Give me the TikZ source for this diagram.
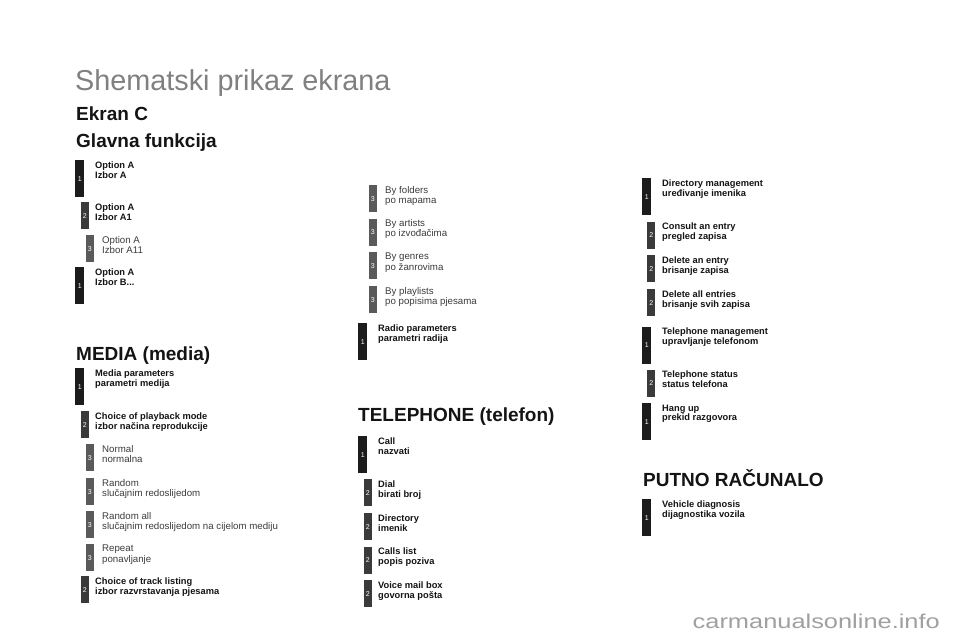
\documentclass[tikz,border=0pt]{standalone}
\usepackage{fontspec}
\setmainfont{Liberation Sans}
\definecolor{cone}{HTML}{1C1C1C}
\definecolor{ctwo}{HTML}{3A3A3A}
\definecolor{cthree}{HTML}{5A5A5A}
\definecolor{ctxt}{HTML}{141414}
\definecolor{ctxtr}{HTML}{3C3C3C}
\definecolor{ctitle}{HTML}{808080}
\definecolor{cwm}{HTML}{A0A0A0}
\begin{document}
\begin{tikzpicture}[x=1pt,y=-1pt,
  barbase/.style={anchor=north west,inner sep=0pt,text=white,font=\fontsize{7}{7}\selectfont},
  barone/.style={barbase,fill=cone,minimum width=9pt,minimum height=37pt},
  bartwo/.style={barbase,fill=ctwo,minimum width=8pt,minimum height=27pt},
  barthree/.style={barbase,fill=cthree,minimum width=8pt,minimum height=27pt},
  lblb/.style={anchor=north west,inner sep=0pt,align=left,text=ctxt,font=\fontsize{9.3}{9.8}\selectfont\bfseries},
  lblr/.style={anchor=north west,inner sep=0pt,align=left,text=ctxtr,font=\fontsize{9.7}{10.2}\selectfont},
  head/.style={anchor=base west,inner sep=0pt,text=ctxt,font=\fontsize{19}{19}\selectfont\bfseries},
]
\useasboundingbox[fill=white] (0,0) rectangle (960,640);

% titles
\node[anchor=base west,inner sep=0pt,text=ctitle,font=\fontsize{28.8}{28.8}\selectfont] (title) at (75,90) {Shematski prikaz ekrana};
\node[head] (ekran) at (76,120) {Ekran C};
\node[head] (glavna) at (76,147) {Glavna funkcija};
\node[head] (media) at (76,360) {MEDIA (media)};
\node[head] (tel) at (358,421) {TELEPHONE (telefon)};
\node[head] (putno) at (643,486) {PUTNO RAČUNALO};

% Glavna funkcija
\node[barone] (ga) at (75,160) {1};
\node[lblb] (gat) at (95,161.5) {Option A\\Izbor A};
\node[bartwo] (gb) at (80.5,202) {2};
\node[lblb] (gbt) at (95,203.5) {Option A\\Izbor A1};
\node[barthree] (gc) at (85.5,235) {3};
\node[lblr] (gct) at (102,236) {Option A\\Izbor A11};
\node[barone] (gd) at (75,267) {1};
\node[lblb] (gdt) at (95,268.5) {Option A\\Izbor B...};

% MEDIA
\node[barone] (ma) at (75,368) {1};
\node[lblb] (mat) at (95,369.5) {Media parameters\\parametri medija};
\node[bartwo] (mb) at (80.5,411) {2};
\node[lblb] (mbt) at (95,412.5) {Choice of playback mode\\izbor načina reprodukcije};
\node[barthree] (mc) at (85.5,444) {3};
\node[lblr] (mct) at (102,445) {Normal\\normalna};
\node[barthree] (md) at (85.5,478) {3};
\node[lblr] (mdt) at (102,479) {Random\\slučajnim redoslijedom};
\node[barthree] (me) at (85.5,511) {3};
\node[lblr] (met) at (102,512) {Random all\\slučajnim redoslijedom na cijelom mediju};
\node[barthree] (mf) at (85.5,544) {3};
\node[lblr] (mft) at (102,545) {Repeat\\ponavljanje};
\node[bartwo] (mg) at (80.5,576) {2};
\node[lblb] (mgt) at (95,577.5) {Choice of track listing\\izbor razvrstavanja pjesama};

% column B
\node[barthree] (ba) at (368.5,185) {3};
\node[lblr] (bat) at (385,186) {By folders\\po mapama};
\node[barthree] (bb) at (368.5,218.5) {3};
\node[lblr] (bbt) at (385,219.5) {By artists\\po izvođačima};
\node[barthree] (bc) at (368.5,252) {3};
\node[lblr] (bct) at (385,253) {By genres\\po žanrovima};
\node[barthree] (bd) at (368.5,286) {3};
\node[lblr] (bdt) at (385,287) {By playlists\\po popisima pjesama};
\node[barone] (be) at (358,323) {1};
\node[lblb] (bet) at (378,324.5) {Radio parameters\\parametri radija};

% TELEPHONE
\node[barone] (ta) at (358,436) {1};
\node[lblb] (tat) at (378,437.5) {Call\\nazvati};
\node[bartwo] (tb) at (363.5,479) {2};
\node[lblb] (tbt) at (378,480.5) {Dial\\birati broj};
\node[bartwo] (tc) at (363.5,513) {2};
\node[lblb] (tct) at (378,514.5) {Directory\\imenik};
\node[bartwo] (td) at (363.5,546.5) {2};
\node[lblb] (tdt) at (378,548) {Calls list\\popis poziva};
\node[bartwo] (te) at (363.5,580) {2};
\node[lblb] (tet) at (378,581.5) {Voice mail box\\govorna pošta};

% column C
\node[barone] (ca) at (642,178) {1};
\node[lblb] (cat) at (662,179.5) {Directory management\\uređivanje imenika};
\node[bartwo] (cb) at (647,221.5) {2};
\node[lblb] (cbt) at (662,223) {Consult an entry\\pregled zapisa};
\node[bartwo] (cc) at (647,255) {2};
\node[lblb] (cct) at (662,256.5) {Delete an entry\\brisanje zapisa};
\node[bartwo] (cd) at (647,289) {2};
\node[lblb] (cdt) at (662,290.5) {Delete all entries\\brisanje svih zapisa};
\node[barone] (ce) at (642,326.5) {1};
\node[lblb] (cet) at (662,328) {Telephone management\\upravljanje telefonom};
\node[bartwo] (cf) at (647,369.5) {2};
\node[lblb] (cft) at (662,371) {Telephone status\\status telefona};
\node[barone] (cg) at (642,403) {1};
\node[lblb] (cgt) at (662,404.5) {Hang up\\prekid razgovora};

% PUTNO RACUNALO
\node[barone] (pa) at (642,499) {1};
\node[lblb] (pat) at (662,500.5) {Vehicle diagnosis\\dijagnostika vozila};

% watermark
\node[anchor=base east,inner sep=0pt,text=cwm,font=\fontsize{20}{20}\selectfont] (wm) at (940,628) {\scalebox{1.27}[1]{carmanualsonline.info}};
\end{tikzpicture}
\end{document}
